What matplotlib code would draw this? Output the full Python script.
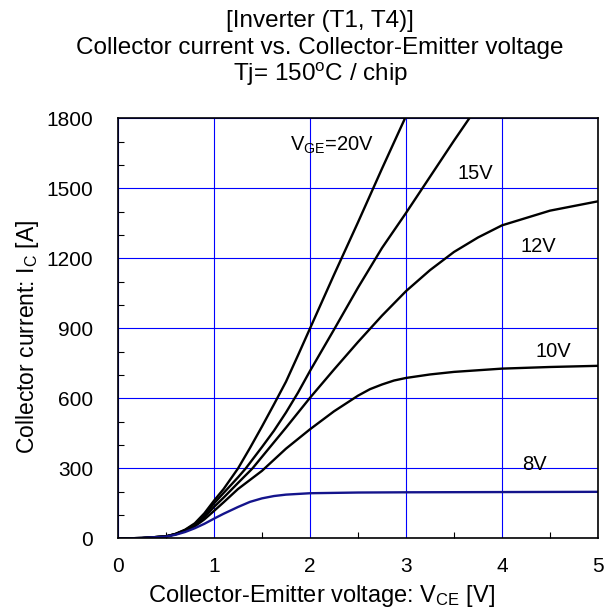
import matplotlib
matplotlib.use("Agg")
import matplotlib.pyplot as plt
from matplotlib.ticker import MultipleLocator

plt.rcParams['font.family'] = ['Liberation Sans', 'DejaVu Sans']
plt.rcParams['mathtext.fontset'] = 'custom'
plt.rcParams['mathtext.rm'] = 'Liberation Sans'
plt.rcParams['mathtext.it'] = 'Liberation Sans'

# output characteristics, VCE [V] vs IC [A], one curve per gate voltage
vce_8 = [0, 0.25, 0.5, 0.6, 0.7, 0.8, 0.9, 1.0, 1.1, 1.25, 1.375, 1.5, 1.625, 1.75, 2.0,
         2.5, 3.0, 4.0, 5.0]
ic_8 = [0, 2, 8, 16, 28, 44, 63, 85, 106, 135, 157, 172, 182, 188, 194,
        197, 198, 199, 200]

vce_10 = [0, 0.25, 0.5, 0.6, 0.7, 0.8, 0.9, 1.0, 1.1, 1.25, 1.5, 1.75, 2.0, 2.25, 2.5,
          2.625, 2.75, 2.875, 3.0, 3.25, 3.5, 4.0, 4.5, 5.0]
ic_10 = [0, 2, 9, 18, 32, 52, 82, 118, 155, 212, 290, 385, 468, 545, 612,
         640, 660, 677, 688, 703, 714, 728, 735, 740]

vce_12 = [0, 0.25, 0.5, 0.6, 0.7, 0.8, 0.9, 1.0, 1.1, 1.25, 1.4, 1.5, 1.75, 2.0, 2.25,
          2.5, 2.75, 3.0, 3.25, 3.5, 3.75, 4.0, 4.5, 5.0]
ic_12 = [0, 2, 9, 19, 35, 58, 92, 135, 175, 238, 300, 350, 475, 603, 724,
         842, 955, 1060, 1150, 1228, 1290, 1342, 1405, 1445]

vce_15 = [0, 0.25, 0.5, 0.6, 0.7, 0.8, 0.9, 1.0, 1.1, 1.25, 1.33, 1.5, 1.625, 1.75, 1.875,
          2.0, 2.25, 2.5, 2.75, 3.0, 3.25, 3.5, 3.75]
ic_15 = [0, 2, 9, 19, 36, 61, 100, 150, 195, 262, 300, 392, 462, 540, 625,
         718, 895, 1075, 1245, 1395, 1550, 1705, 1855]

vce_20 = [0, 0.25, 0.5, 0.6, 0.7, 0.8, 0.9, 1.0, 1.1, 1.25, 1.375, 1.5, 1.625, 1.75,
          1.875, 2.0, 2.25, 2.5, 2.75, 3.0, 3.25]
ic_20 = [0, 2, 9, 20, 38, 65, 108, 162, 212, 300, 388, 480, 575, 672,
         785, 900, 1130, 1355, 1585, 1810, 2040]

curves = [(vce_20, ic_20, 'black'), (vce_15, ic_15, 'black'), (vce_12, ic_12, 'black'),
          (vce_10, ic_10, 'black'), (vce_8, ic_8, '#14148c')]

# curve labels: (text, VCE, IC)
labels = [(r'V$_{\mathrm{GE}}$=20V', 1.79, 1684), ('15V', 3.54, 1566), ('12V', 4.19, 1251),
          ('10V', 4.35, 801), ('8V', 4.21, 318)]

title_lines = ['[Inverter (T1, T4)]',
               'Collector current vs. Collector-Emitter voltage',
               r'Tj= 150$^{\mathrm{o}}$C / chip']

fig = plt.figure(figsize=(6.11, 6.12), dpi=100)
ax = fig.add_axes([0.1931, 0.1201, 0.7856, 0.6863])

for x, y, c in curves:
    ax.plot(x, y, color=c, lw=1.7, solid_joinstyle='round', solid_capstyle='round')

for txt, x, y in labels:
    ax.text(x, y, txt, fontsize=14.5, ha='left', va='center')

ax.set_xlim(0, 5)
ax.set_ylim(0, 1800)
ax.xaxis.set_major_locator(MultipleLocator(1))
ax.xaxis.set_minor_locator(MultipleLocator(0.5))
ax.yaxis.set_major_locator(MultipleLocator(300))
ax.yaxis.set_minor_locator(MultipleLocator(100))
ax.grid(True, which='major', color='#0000ff', lw=0.8)
ax.tick_params(which='both', direction='in', top=False, right=False, labelsize=15)
ax.tick_params(which='major', length=0)
ax.tick_params(which='minor', length=4, width=0.8)
ax.tick_params(axis='y', which='major', pad=18)
ax.tick_params(axis='x', which='major', pad=13)
for s in ax.spines.values():
    s.set_linewidth(1.2)

ax.set_xlabel(r'Collector-Emitter voltage: V$_{\mathrm{CE}}$ [V]', fontsize=17)
ax.set_ylabel(r'Collector current: I$_{\mathrm{C}}$ [A]', fontsize=16.5)
ax.xaxis.set_label_coords(0.4246, -0.1512)
ax.xaxis.label.set_verticalalignment('baseline')
ax.yaxis.set_label_coords(-0.161, 0.4786)

# three-line heading, baselines in pixels from the top
for line, base in zip(title_lines, [26.5, 54, 81]):
    fig.text(0.524, 1 - base / 612, line, ha='center', va='baseline', fontsize=17.5)

fig.savefig('out.png', dpi=100)
